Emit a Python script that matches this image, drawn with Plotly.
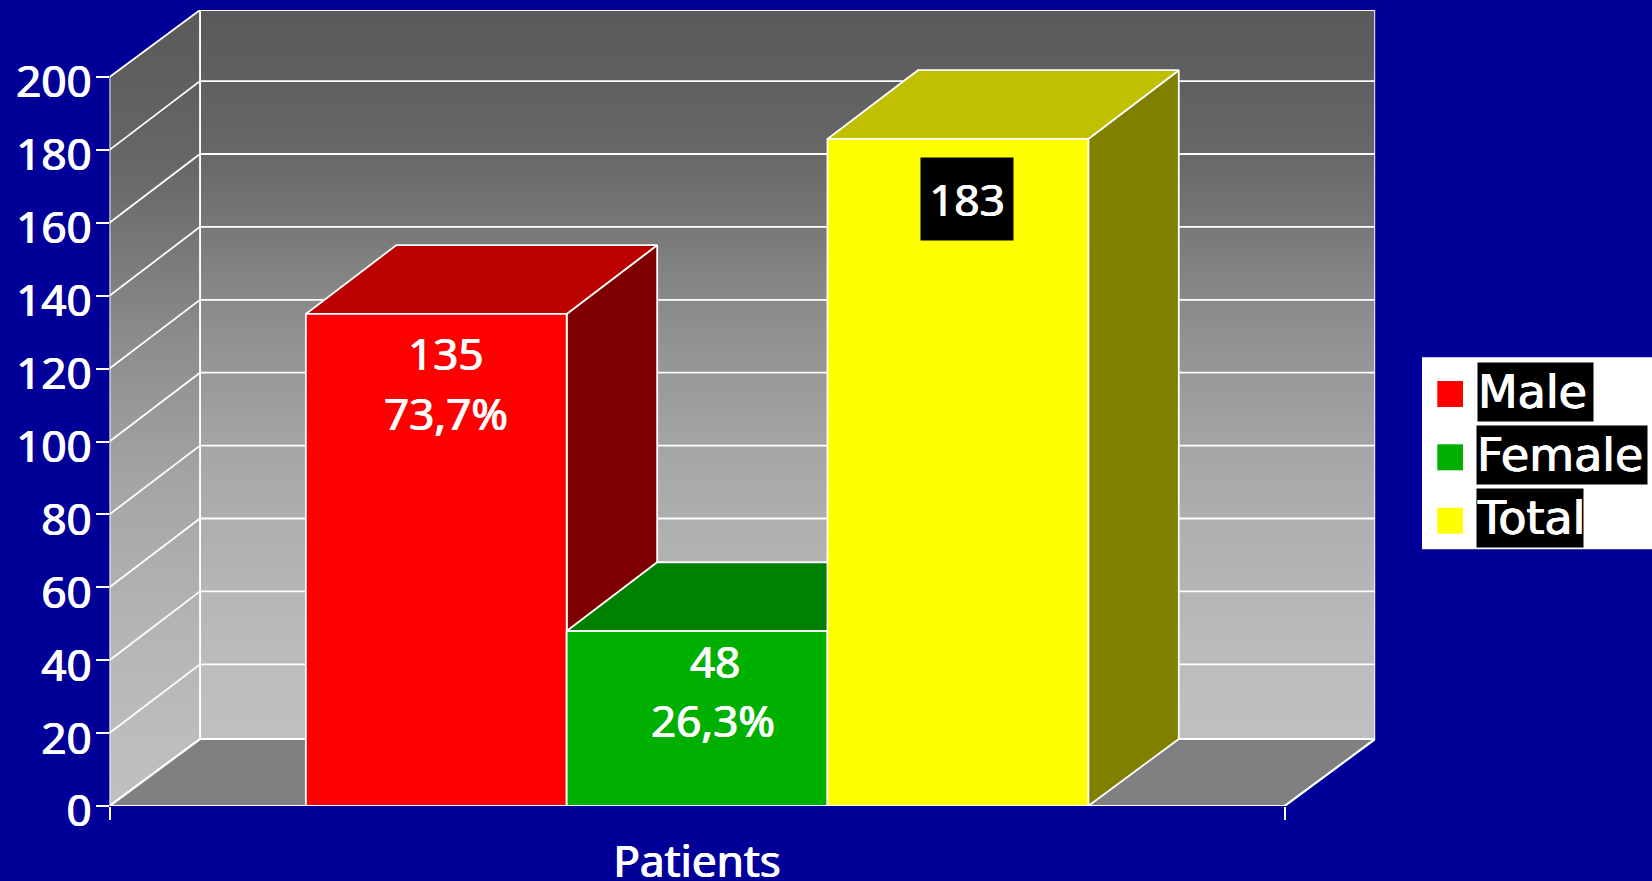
import plotly.graph_objects as go

# ---- data ----
categories = ["Male", "Female", "Total"]
values = [135, 48, 183]
percent_labels = ["73,7%", "26,3%", None]
y_ticks = [0, 20, 40, 60, 80, 100, 120, 140, 160, 180, 200]
x_title = "Patients"

# ---- style ----
BG = "#000099"
front_colors = ["#ff0000", "#00b000", "#ffff00"]
top_colors = ["#bb0000", "#008000", "#c0c000"]
side_colors = ["#7f0000", "#005800", "#808000"]
WALL_SCALE = [[0, "#c0c0c0"], [0.1, "#bcbcbc"], [0.2, "#b6b6b6"], [0.3, "#aeaeae"], [0.4, "#a5a5a5"],
              [0.5, "#989898"], [0.6, "#8a8a8a"], [0.7, "#787878"], [0.8, "#686868"], [0.9, "#606060"],
              [1, "#5a5a5a"]]

W, H = 1652, 881
X_L, Y_B = 109.5, 806.0   # pixel position of the axis origin
PX_X = 260.8              # pixels per category unit
PX_Y = 3.645              # pixels per value unit
DX = 90.5 / PX_X          # oblique depth, in axis units
DY = 68.8 / PX_Y          # depth of bars and gridlines
BOX_DY = 67.0 / PX_Y      # depth of the outer box
X_END = 4.506             # front length of the category axis
GAP = 0.753               # space before the first bar
Y_MAX = y_ticks[-1]
X_R = X_L + (X_END + DX) * PX_X
Y_T = Y_B - (Y_MAX + BOX_DY) * PX_Y
FONT = "Noto Sans"
HEAVY = "0.6px 0 0 #ffffff, -0.6px 0 0 #ffffff"   # thickens the regular weight a little
TEXT = dict(family=FONT, size=44, color="#ffffff", shadow=HEAVY)

fig = go.Figure()


def poly(xs, ys, color=None, width=1.8, gradient=None, closed=True):
    kw = dict(x=xs, y=ys, mode="lines", hoverinfo="skip", showlegend=False,
              cliponaxis=False, line=dict(color="#ffffff", width=width))
    if closed:
        kw["fill"] = "toself"
        if gradient:
            kw["fillgradient"] = dict(type="vertical", colorscale=gradient)
        else:
            kw["fillcolor"] = color
    fig.add_trace(go.Scatter(**kw))


# back wall, side wall, floor
poly([DX, X_END + DX, X_END + DX, DX, DX],
     [BOX_DY, BOX_DY, Y_MAX + BOX_DY, Y_MAX + BOX_DY, BOX_DY], gradient=WALL_SCALE)
poly([0, DX, DX, 0, 0], [0, BOX_DY, Y_MAX + BOX_DY, Y_MAX, 0], gradient=WALL_SCALE)
poly([0, X_END, X_END + DX, DX, 0], [0, 0, BOX_DY, BOX_DY, 0], color="#808080", width=2.2)

# gridlines on the walls
for t in y_ticks[1:-1]:
    poly([0, DX, X_END + DX], [t, t + DY, t + DY], closed=False)

# bars
for i, v in enumerate(values):
    x0, x1 = GAP + i, GAP + i + 1
    poly([x1, x1 + DX, x1 + DX, x1, x1], [0, BOX_DY, v + DY, v, 0], color=side_colors[i])
    poly([x0, x1, x1 + DX, x0 + DX, x0], [v, v, v + DY, v + DY, v], color=top_colors[i])
    poly([x0, x1, x1, x0, x0], [0, 0, v, v, 0], color=front_colors[i])

annotations = []


def label(xv, yv, text, **kw):
    annotations.append(dict(x=xv, y=yv, xref="x", yref="y", text=text, showarrow=False,
                            xanchor="center", yanchor="middle", font=TEXT, **kw))


# data labels: red and green have two lines, total sits on a black box
label(GAP + 0.5 + 0.036, values[0] - 10.8, str(values[0]))
label(GAP + 0.5 + 0.036, values[0] - 27.3, percent_labels[0])
label(GAP + 1.5 + 0.068, values[1] - 8.1, str(values[1]))
label(GAP + 1.5 + 0.062, values[1] - 24.5, percent_labels[1])
label(GAP + 2.5 + 0.035, values[2] - 16.4, str(values[2]),
      bgcolor="#000000", width=90, height=80)

# legend panel
shapes = [dict(type="rect", xref="paper", yref="paper", x0=1422 / W, x1=1, y0=1 - 549.3 / H,
               y1=1 - 357.3 / H, fillcolor="#ffffff", line=dict(width=0), layer="above")]
leg_rows = [(381, 1478, 1593, 363, 421), (444.3, 1477, 1647, 426, 484), (507.7, 1477, 1583, 489, 547)]
for name, col, (sy, tx0, tx1, ty0, ty1) in zip(categories, front_colors, leg_rows):
    shapes.append(dict(type="rect", xref="paper", yref="paper", x0=1437.3 / W, x1=1463 / W,
                       y0=1 - (sy + 26) / H, y1=1 - sy / H, fillcolor=col, line=dict(width=0),
                       layer="above"))
    annotations.append(dict(x=(tx0 + tx1) / 2 / W, y=1 - (ty0 + ty1) / 2 / H, xref="paper", yref="paper",
                            text=name, showarrow=False, xanchor="center", yanchor="middle",
                            width=tx1 - tx0, height=ty1 - ty0, bgcolor="#000000", align="left",
                            borderpad=0,
                            font=dict(family="DejaVu Sans", size=46, color="#ffffff", shadow=HEAVY)))

fig.update_layout(
    width=W, height=H, margin=dict(l=0, r=0, t=0, b=0), autosize=False,
    paper_bgcolor=BG, plot_bgcolor=BG, showlegend=False,
    font=dict(family=FONT, color="#ffffff"),
    shapes=shapes, annotations=annotations,
    xaxis=dict(domain=[X_L / W, X_R / W], range=[0, X_END + DX], showgrid=False, zeroline=False,
               showline=False, automargin=False, tickmode="array", tickvals=[X_END / 2], ticktext=[x_title],
               ticks="", ticklabelstandoff=26, tickfont=TEXT,
               minor=dict(tickmode="array", tickvals=[0, X_END], ticks="outside", ticklen=13,
                          tickwidth=1.8, tickcolor="#ffffff")),
    yaxis=dict(domain=[1 - Y_B / H, 1 - Y_T / H], range=[0, Y_MAX + BOX_DY], showgrid=False, zeroline=False,
               showline=False, automargin=False, tickmode="array", tickvals=y_ticks, ticks="outside", ticklen=13,
               tickwidth=1.8, tickcolor="#ffffff", ticklabelstandoff=-5, ticklabelshift=5, tickfont=TEXT),
)

fig.write_html("out.html", config=dict(displayModeBar=False),
               post_script="document.body.style.margin='0';document.body.style.background='%s';" % BG)
